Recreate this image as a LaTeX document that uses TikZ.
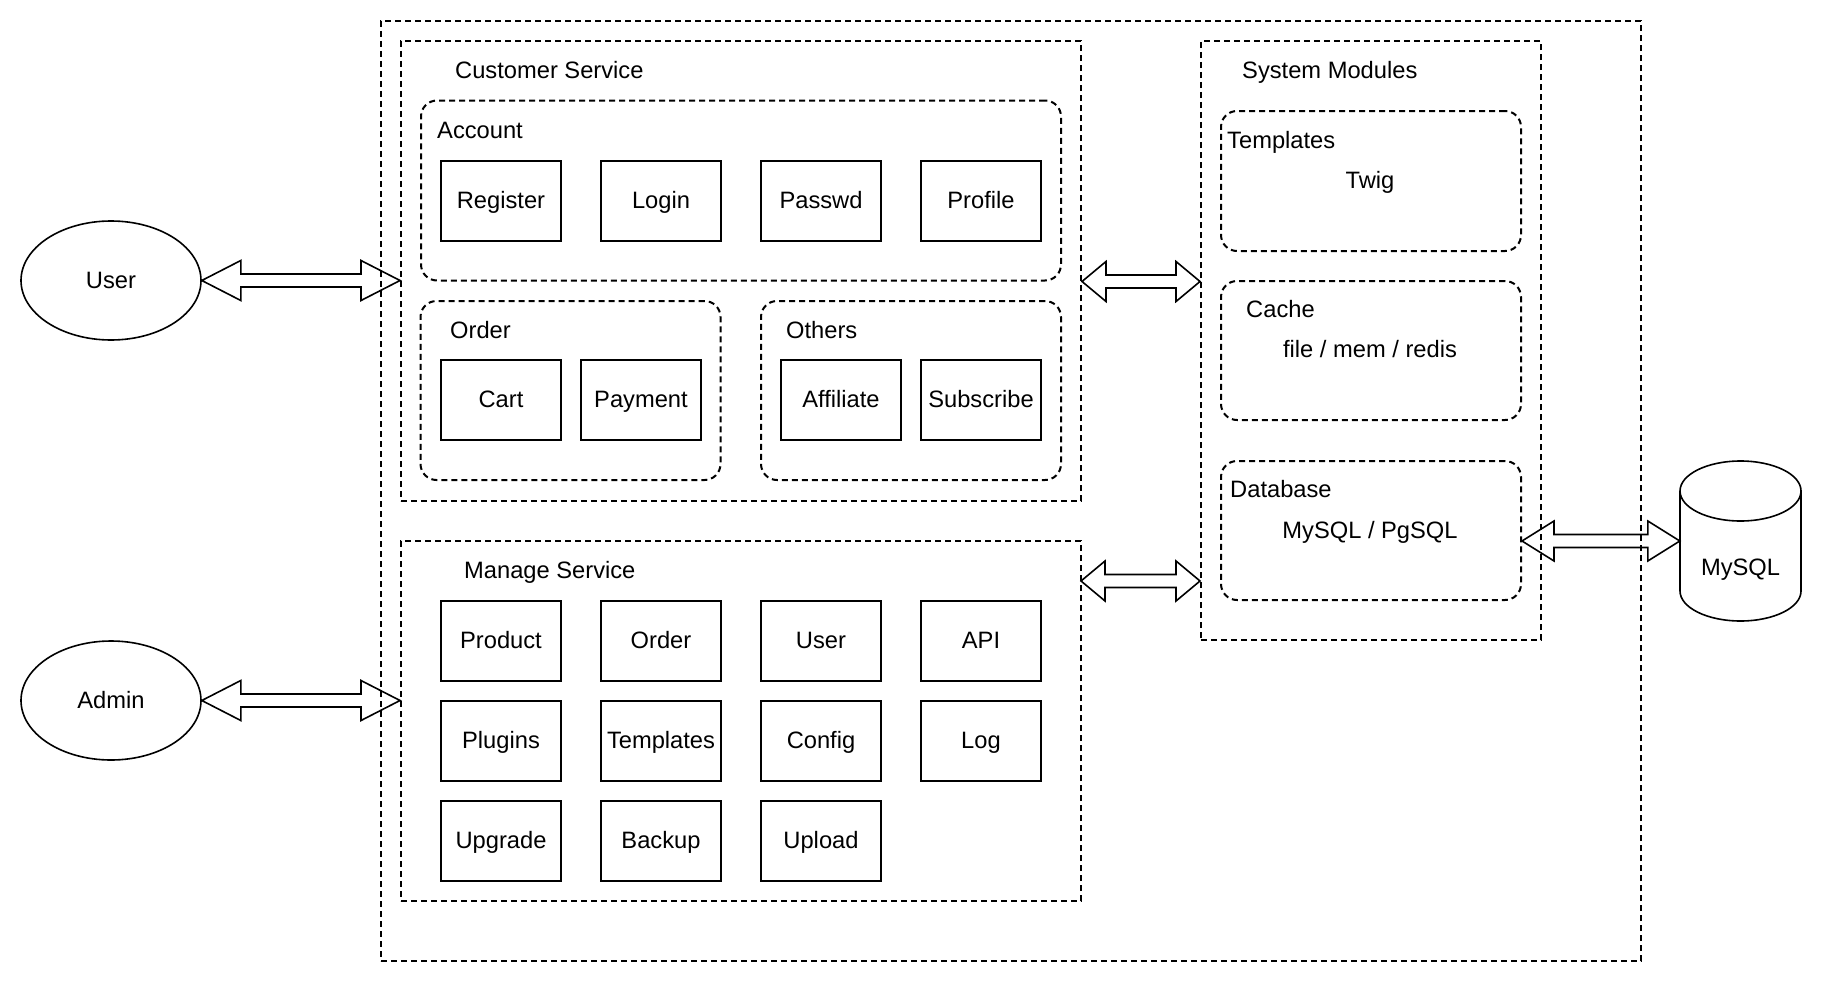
\documentclass[tikz,border=0pt]{standalone}
\usepackage{fontspec}
\setmainfont{Liberation Sans}
\usetikzlibrary{shapes.geometric, calc}

\newcommand{\flexarrow}[3]{%
  \draw[flex] let \p1=(#1), \p2=(#2) in
    (\x1,\y1) -- (\x1+#3pt,\y1+20pt) -- (\x1+#3pt,\y1+6.5pt) -- (\x2-#3pt,\y1+6.5pt)
    -- (\x2-#3pt,\y1+20pt) -- (\x2,\y1) -- (\x2-#3pt,\y1-20pt) -- (\x2-#3pt,\y1-6.5pt)
    -- (\x1+#3pt,\y1-6.5pt) -- (\x1+#3pt,\y1-20pt) -- cycle;}

\begin{document}
\begin{tikzpicture}[x=1pt, y=-1pt,
    font=\fontsize{23.7}{28}\selectfont,
    dashbox/.style={draw, line width=2pt, dash pattern=on 6pt off 4pt, inner sep=0pt},
    groupbox/.style={dashbox, rounded corners=16pt},
    box/.style={draw, line width=2pt, minimum width=120pt, minimum height=80pt, inner sep=0pt, text height=18pt, text depth=3.4pt},
    actor/.style={ellipse, draw, line width=1.6pt, minimum width=180pt, minimum height=119pt, inner sep=0pt},
    caption/.style={anchor=base west, inner sep=0pt},
    note/.style={anchor=base, inner sep=0pt},
    flex/.style={draw, line width=1.6pt, line join=miter},
    db/.style={draw, line width=1.6pt}]
    \useasboundingbox (0,0) rectangle (1822,982);

    % outer frame
    \node[dashbox, minimum width=1260pt, minimum height=940pt] (system) at (1011,491) {};

    % customer service
    \node[dashbox, minimum width=680pt, minimum height=460pt] (customer) at (741,271) {};
    \node[caption] (customerlabel) at (455,78.3) {Customer Service};
    \node[groupbox, minimum width=640pt, minimum height=180pt] (account) at (741,190.5) {};
    \node[caption] (accountlabel) at (437,138.3) {Account};
    \node[box] (register) at (501,201) {Register};
    \node[box] (login) at (661,201) {Login};
    \node[box] (passwd) at (821,201) {Passwd};
    \node[box] (profile) at (981,201) {Profile};
    \node[groupbox, minimum width=300pt, minimum height=179pt] (order) at (570.5,390.5) {};
    \node[caption] (orderlabel) at (450,338.5) {Order};
    \node[box] (cart) at (501,400) {Cart};
    \node[box] (payment) at (641,400) {Payment};
    \node[groupbox, minimum width=300pt, minimum height=179pt] (others) at (911,390.5) {};
    \node[caption] (otherslabel) at (786,338.5) {Others};
    \node[box] (affiliate) at (841,400) {Affiliate};
    \node[box] (subscribe) at (981,400) {Subscribe};

    % manage service
    \node[dashbox, minimum width=680pt, minimum height=360pt] (manage) at (741,721) {};
    \node[caption] (managelabel) at (464,578.3) {Manage Service};
    \node[box] (product) at (501,641) {Product};
    \node[box] (morder) at (661,641) {Order};
    \node[box] (muser) at (821,641) {User};
    \node[box] (api) at (981,641) {API};
    \node[box] (plugins) at (501,741) {Plugins};
    \node[box] (mtemplates) at (661,741) {Templates};
    \node[box] (config) at (821,741) {Config};
    \node[box] (log) at (981,741) {Log};
    \node[box] (upgrade) at (501,841) {Upgrade};
    \node[box] (backup) at (661,841) {Backup};
    \node[box] (upload) at (821,841) {Upload};

    % system modules
    \node[dashbox, minimum width=340pt, minimum height=599pt] (modules) at (1371,340.5) {};
    \node[caption] (moduleslabel) at (1242,78.3) {System Modules};
    \node[groupbox, minimum width=300pt, minimum height=140pt] (templates) at (1371,181) {};
    \node[caption] (templateslabel) at (1227,148.3) {Templates};
    \node[note] (twig) at (1370,188.3) {Twig};
    \node[groupbox, minimum width=300pt, minimum height=139pt] (cache) at (1371,350.5) {};
    \node[caption] (cachelabel) at (1246,317.7) {Cache};
    \node[note] (cachetypes) at (1370,357.3) {file / mem / redis};
    \node[groupbox, minimum width=300pt, minimum height=139pt] (database) at (1371,530.5) {};
    \node[caption] (databaselabel) at (1230,497.3) {Database};
    \node[note] (dbtypes) at (1370,538.3) {MySQL / PgSQL};

    % actors and storage
    \node[actor] (user) at (111,280.5) {User};
    \node[actor] (admin) at (111,700.5) {Admin};
    \node[inner sep=0pt, minimum width=121pt, minimum height=160pt] (mysql) at (1740.5,541) {};
    \draw[db] (1740.5,491) ellipse [x radius=60.5, y radius=30];
    \draw[db] (1680,491) -- (1680,591) arc [start angle=180, end angle=0, x radius=60.5, y radius=30] -- (1801,491);
    \node[note] (mysqllabel) at (1740.5,575) {MySQL};

    % connectors
    \coordinate (manageport) at (1081,581);
    \flexarrow{user.east}{user.east -| customer.west}{39}
    \flexarrow{admin.east}{admin.east -| manage.west}{39}
    \flexarrow{account.south -| customer.east}{account.south -| modules.west}{24}
    \flexarrow{manageport}{manageport -| modules.west}{24}
    \flexarrow{mysql.west -| database.east}{mysql.west}{32}
\end{tikzpicture}
\end{document}
